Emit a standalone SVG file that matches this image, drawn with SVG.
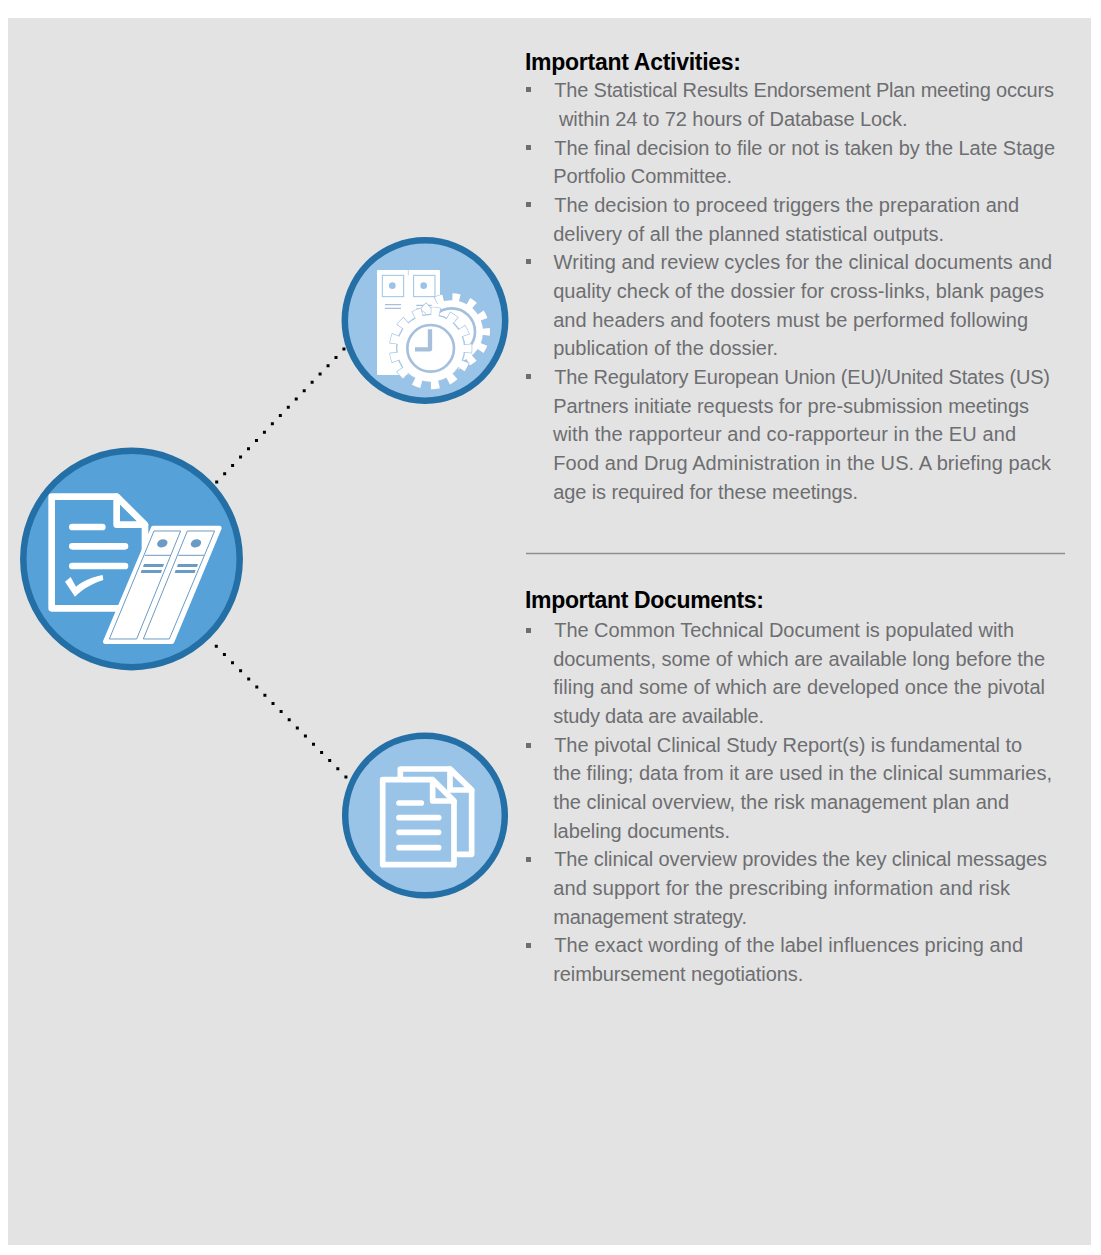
<svg xmlns="http://www.w3.org/2000/svg" width="1101" height="1255" viewBox="0 0 1101 1255">
<style>
.t{font-family:"Liberation Sans",Arial,sans-serif;font-size:20px;fill:#6d6e71}
.h{font-family:"Liberation Sans",Arial,sans-serif;font-size:23px;font-weight:bold;fill:#000}
.b{fill:#6d6e71}
.dot{fill:none;stroke:#000;stroke-width:3;stroke-linecap:square;stroke-dasharray:0 11.5}
.c1{fill:#55a1d8;stroke:#2470a6;stroke-width:6.5}
.c2{fill:#9ac3e8;stroke:#2470a6;stroke-width:6.5}
.w{fill:none;stroke:#fff;stroke-width:20;stroke-linecap:round;stroke-linejoin:round}
.w2{fill:none;stroke:#fff;stroke-width:17;stroke-linecap:round;stroke-linejoin:round}
.bl{fill:none;stroke:#6a9bc4;stroke-width:3}
.bf{fill:#6a9bc4}
</style>
<rect width="1101" height="1255" fill="#fff"/>
<rect x="8" y="18" width="1083" height="1227" fill="#e3e3e3"/>
<g id="connectors">
<path class="dot" d="M216.7 482L344.9 348.1"/>
<path class="dot" d="M216.3 646.3L346.6 777.6"/>
</g>
<g id="node-main">
<circle class="c1" cx="131.5" cy="559" r="108.2"/>
<g transform="translate(10 440) scale(.3333)">
<path class="w" d="M405 345V255L320 170H125V505H325"/>
<path class="w" d="M320 170V254H405Z" style="fill:#55a1d8"/>
<path class="w" d="M187 261H277M187 319H345M187 378H345"/>
<path fill="#fff" d="M165 425L182 411L198 440C220 422 250 410 278 405L280 420C250 430 220 445 195 470Z"/>
<path fill="#fff" stroke="#fff" stroke-width="14" stroke-linejoin="round" d="M430 264H628L486 605H286Z"/>
<path class="bl" d="M432 273H512L380 597H298ZM532 273H614L478 597H400ZM405 346H482M505 346H582"/>
<ellipse class="bf" cx="457" cy="310" rx="16" ry="12" transform="rotate(-20 457 310)"/>
<ellipse class="bf" cx="558" cy="310" rx="16" ry="12" transform="rotate(-20 558 310)"/>
<path class="bf" d="M402 372H462L459 381H399ZM395 390H456L453 399H392ZM504 372H564L561 381H501ZM497 390H557L554 399H494Z"/>
</g>
</g>
<g id="node-activities">
<circle class="c2" cx="425" cy="320.5" r="80.2"/>
<g transform="translate(335 230) scale(.3333)">
<rect x="126" y="120" width="189" height="315" rx="3" fill="#fff"/>
<path d="M220 120V136" stroke="#9ac3e8" stroke-width="2"/>
<rect x="142" y="136" width="64" height="64" fill="none" stroke="#9ac3e8" stroke-width="3"/>
<rect x="236" y="136" width="64" height="64" fill="none" stroke="#9ac3e8" stroke-width="3"/>
<circle cx="172" cy="167" r="10" fill="#9ac3e8"/>
<circle cx="266" cy="167" r="10" fill="#9ac3e8"/>
<path d="M150 224H198M150 235H198M244 226H290M244 237H290" stroke="#a5bfdc" stroke-width="4"/>
<circle cx="350" cy="305" r="103" fill="none" stroke="#a5bfdc" stroke-width="28" stroke-dasharray="26 23.78" stroke-dashoffset="13"/>
<circle cx="350" cy="305" r="103" fill="none" stroke="#fff" stroke-width="24" stroke-dasharray="22 27.78" stroke-dashoffset="11"/>
<circle cx="350" cy="305" r="94" fill="#fff"/>
<circle cx="350" cy="305" r="70" fill="none" stroke="#a5bfdc" stroke-width="8"/>
<circle cx="287" cy="355" r="104" fill="#a5c6e6"/>
<circle cx="287" cy="355" r="110" fill="none" stroke="#a5c6e6" stroke-width="30" stroke-dasharray="28 25.17" stroke-dashoffset="14"/>
<circle cx="287" cy="355" r="110" fill="none" stroke="#fff" stroke-width="26" stroke-dasharray="24 29.17" stroke-dashoffset="12"/>
<circle cx="287" cy="355" r="100" fill="#fff"/>
<circle cx="287" cy="355" r="70" fill="none" stroke="#a5bfdc" stroke-width="8"/>
<path d="M285 298V358H240" fill="none" stroke="#a5bfdc" stroke-width="13" stroke-linejoin="round"/>
</g>
</g>
<g id="node-documents">
<circle class="c2" cx="425" cy="815.5" r="79.8"/>
<g transform="translate(335 725) scale(.3333)">
<path class="w2" d="M196 155V132H345L410 195V388H360"/>
<path class="w2" d="M345 132V195H410Z"/>
<path class="w2" d="M143 164H292L357 228V419H143Z" style="fill:#9ac3e8"/>
<path class="w2" d="M293 164V228H357Z" style="fill:#9ac3e8"/>
<path class="w2" d="M192 234H259M192 278H311M192 322H311M192 368H311"/>
</g>
</g>
<g id="important-activities">
<text class="h" x="525" y="69.5" textLength="216">Important Activities:</text>
<rect class="b" x="526" y="87" width="5" height="5"/><rect class="b" x="526" y="145" width="5" height="5"/><rect class="b" x="526" y="202" width="5" height="5"/><rect class="b" x="526" y="259" width="5" height="5"/><rect class="b" x="526" y="374" width="5" height="5"/>
<text class="t" x="554.2" y="97" textLength="499.8">The Statistical Results Endorsement Plan meeting occurs</text>
<text class="t" x="559" y="126" textLength="348.5">within 24 to 72 hours of Database Lock.</text>
<text class="t" x="554.2" y="155" textLength="500.8">The final decision to file or not is taken by the Late Stage</text>
<text class="t" x="553.2" y="183" textLength="178.8">Portfolio Committee.</text>
<text class="t" x="554.2" y="212" textLength="464.8">The decision to proceed triggers the preparation and</text>
<text class="t" x="553.2" y="241" textLength="390.8">delivery of all the planned statistical outputs.</text>
<text class="t" x="553.6" y="269" textLength="498.4">Writing and review cycles for the clinical documents and</text>
<text class="t" x="553.2" y="298" textLength="490.8">quality check of the dossier for cross-links, blank pages</text>
<text class="t" x="553.2" y="327" textLength="474.8">and headers and footers must be performed following</text>
<text class="t" x="553.2" y="355" textLength="224.8">publication of the dossier.</text>
<text class="t" x="554.2" y="384" textLength="495.8">The Regulatory European Union (EU)/United States (US)</text>
<text class="t" x="553.2" y="413" textLength="475.8">Partners initiate requests for pre-submission meetings</text>
<text class="t" x="553" y="441" textLength="463">with the rapporteur and co-rapporteur in the EU and</text>
<text class="t" x="553.2" y="470" textLength="497.8">Food and Drug Administration in the US. A briefing pack</text>
<text class="t" x="553.2" y="499" textLength="304.8">age is required for these meetings.</text>
</g>
<path id="divider" d="M526 553.5H1065" stroke="#8e8e8e" stroke-width="1.5"/>
<g id="important-documents">
<text class="h" x="525" y="608" textLength="239">Important Documents:</text>
<rect class="b" x="526" y="628" width="5" height="5"/><rect class="b" x="526" y="743" width="5" height="5"/><rect class="b" x="526" y="857" width="5" height="5"/><rect class="b" x="526" y="943" width="5" height="5"/>
<text class="t" x="554.2" y="637" textLength="459.8">The Common Technical Document is populated with</text>
<text class="t" x="553.2" y="666" textLength="491.8">documents, some of which are available long before the</text>
<text class="t" x="553.2" y="694" textLength="491.8">filing and some of which are developed once the pivotal</text>
<text class="t" x="553.2" y="723" textLength="210.8">study data are available.</text>
<text class="t" x="554.2" y="752" textLength="467.8">The pivotal Clinical Study Report(s) is fundamental to</text>
<text class="t" x="553.2" y="780" textLength="498.8">the filing; data from it are used in the clinical summaries,</text>
<text class="t" x="553.2" y="809" textLength="455.8">the clinical overview, the risk management plan and</text>
<text class="t" x="553.2" y="838" textLength="176.8">labeling documents.</text>
<text class="t" x="554.2" y="866" textLength="492.8">The clinical overview provides the key clinical messages</text>
<text class="t" x="553.2" y="895" textLength="456.8">and support for the prescribing information and risk</text>
<text class="t" x="553.2" y="924" textLength="193.8">management strategy.</text>
<text class="t" x="554.2" y="952" textLength="468.8">The exact wording of the label influences pricing and</text>
<text class="t" x="553.2" y="981" textLength="250">reimbursement negotiations.</text>
</g>
</svg>
